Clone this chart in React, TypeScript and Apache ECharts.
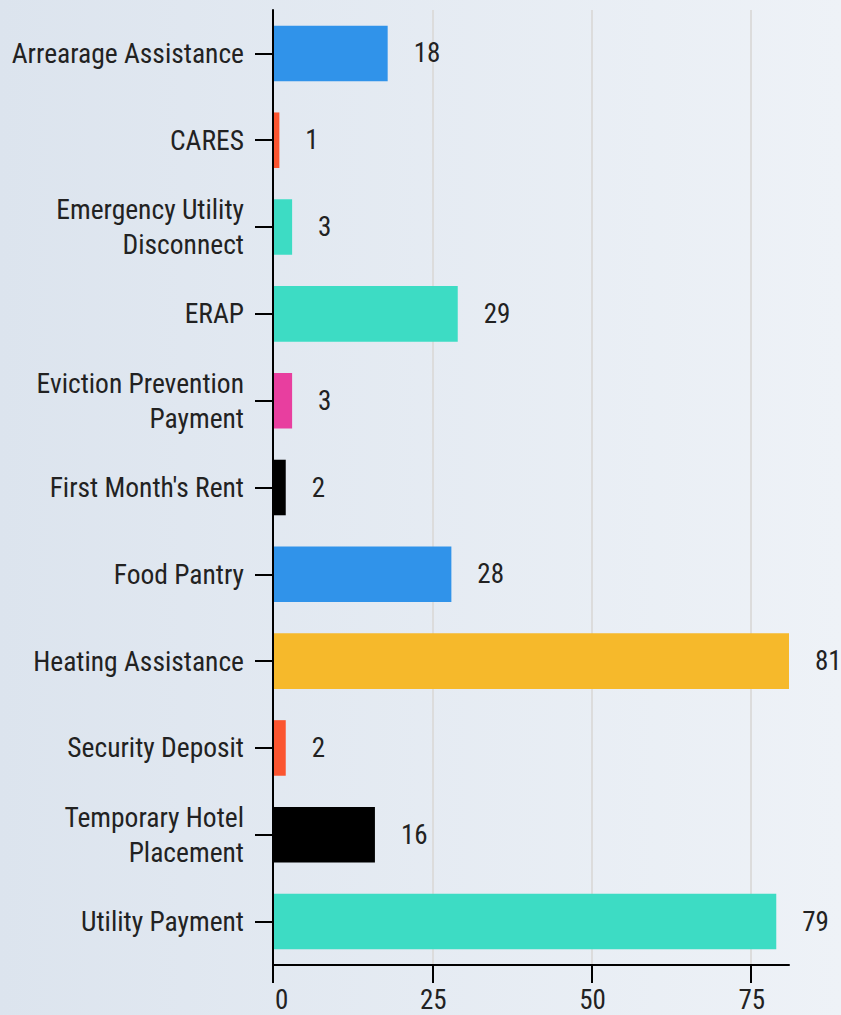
import React, { useEffect, useRef } from "react";
import * as echarts from "echarts";

const categories = [
  "Arrearage Assistance",
  "CARES",
  "Emergency Utility\nDisconnect",
  "ERAP",
  "Eviction Prevention\nPayment",
  "First Month's Rent",
  "Food Pantry",
  "Heating Assistance",
  "Security Deposit",
  "Temporary Hotel\nPlacement",
  "Utility Payment",
];
const values = [18, 1, 3, 29, 3, 2, 28, 81, 2, 16, 79];
const barColors = [
  "#3093ea",
  "#fb5530",
  "#3ddcc4",
  "#3ddcc4",
  "#e83e9f",
  "#000000",
  "#3093ea",
  "#f6b92b",
  "#fb5530",
  "#000000",
  "#3ddcc4",
];
const xTicks = [0, 25, 50, 75];

const FONT = '"Roboto Condensed", "Liberation Sans Narrow", "DejaVu Sans Condensed", Roboto, sans-serif';

export default function App() {
  const ref = useRef<HTMLDivElement>(null);
  useEffect(() => {
    document.body.style.margin = "0";
    if (!ref.current) return;
    const chart = echarts.init(ref.current, null, { renderer: "svg" });
    chart.setOption({
      animation: false,
      backgroundColor: new echarts.graphic.LinearGradient(0, 0, 1, 0, [
        { offset: 0, color: "#dce4ee" },
        { offset: 1, color: "#eef2f7" },
      ]),
      grid: { left: 273, right: 52, top: 10, bottom: 50, containLabel: false },
      xAxis: {
        type: "value",
        min: 0,
        max: Math.max(...values),
        interval: 25,
        axisLine: { show: true, lineStyle: { color: "#000", width: 2 } },
        axisTick: {
          show: true,
          length: 18,
          lineStyle: { color: "#000", width: 2 },
          customValues: xTicks,
        },
        axisLabel: {
          margin: 21,
          color: "#222",
          fontSize: 27,
          fontWeight: 400,
          fontFamily: FONT,
          customValues: xTicks,
          alignMinLabel: "left",
          padding: [0, 0, 0, 2],
          formatter: (v: number) => (xTicks.includes(v) ? String(v) : ""),
        },
        splitLine: { show: true, lineStyle: { color: "#dcdcdc", width: 2 } },
      },
      yAxis: {
        type: "category",
        data: categories,
        inverse: true,
        z: 3,
        axisLine: { show: true, lineStyle: { color: "#000", width: 2 } },
        axisTick: { show: true, length: 18, alignWithLabel: true, lineStyle: { color: "#000", width: 2 } },
        axisLabel: {
          margin: 29,
          color: "#222",
          fontSize: 27.5,
          fontWeight: 400,
          lineHeight: 35,
          fontFamily: FONT,
          align: "right",
        },
        splitLine: { show: false },
      },
      series: [
        {
          type: "bar",
          data: values.map((v, i) => ({ value: v, itemStyle: { color: barColors[i] } })),
          barWidth: "64%",
          label: {
            show: true,
            position: "right",
            distance: 26,
            color: "#222",
            fontSize: 27,
            fontWeight: 400,
            fontFamily: FONT,
          },
        },
      ],
    });
    return () => chart.dispose();
  }, []);
  return <div ref={ref} style={{ width: 841, height: 1015 }} />;
}
